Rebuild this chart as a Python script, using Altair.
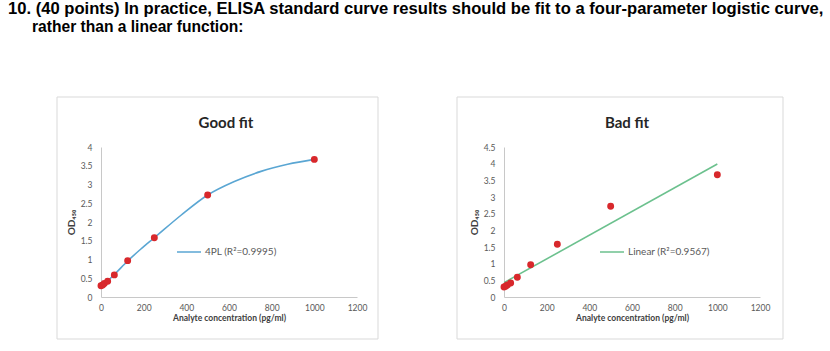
import altair as alt
import pandas as pd

# Standard points (concentration pg/ml, OD450)
conc = [0, 7.8, 15.6, 31.25, 62.5, 125, 250, 500, 1000]
od = [0.30, 0.32, 0.36, 0.42, 0.59, 0.97, 1.58, 2.72, 3.67]

# 4PL curve
curve_x = [0, 7.8, 15.6, 31.25, 62.5, 125, 187, 250, 375, 500, 625, 750, 875, 1000]
curve_y = [0.30, 0.33, 0.36, 0.43, 0.60, 0.96, 1.28, 1.58, 2.18, 2.72, 3.08, 3.35, 3.54, 3.67]

# Linear fit line end points
lin_x = [0, 1000]
lin_y = [0.43, 3.99]

x_ticks = [0, 200, 400, 600, 800, 1000, 1200]
y_ticks_left = [0, 0.5, 1, 1.5, 2, 2.5, 3, 3.5, 4]
y_ticks_right = [0, 0.5, 1, 1.5, 2, 2.5, 3, 3.5, 4, 4.5]

heading1 = "10. (40 points) In practice, ELISA standard curve results should be fit to a four-parameter logistic curve,"
heading2 = "rather than a linear function:"

FONT = "Lato"
RED = "#d8282c"
BLUE = "#5aa6d3"
GREEN = "#6cc18e"
W, H = 256, 150

pts = pd.DataFrame({"x": conc, "y": od})
crv = pd.DataFrame({"x": curve_x, "y": curve_y, "series": "4PL  (R\u00b2=0.9995)"})
lin = pd.DataFrame({"x": lin_x, "y": lin_y, "series": "Linear  (R\u00b2=0.9567)"})
one = pd.DataFrame({"a": [0]})


def xenc():
    return alt.X(
        "x:Q",
        scale=alt.Scale(domain=[0, 1200], nice=False, zero=False),
        axis=alt.Axis(
            values=x_ticks, format="d", grid=False, ticks=False,
            domainColor="#c8c8c8", labelColor="#595959", labelFontSize=8.5,
            labelFont=FONT, labelPadding=6, labelFlush=False, labelOverlap=False,
            title="Analyte concentration (pg/ml)", titleFont=FONT,
            titleFontSize=8.5, titleFontWeight="bold", titleColor="#404040",
            titlePadding=2,
        ),
    )


def yenc(ticks, top):
    return alt.Y(
        "y:Q",
        scale=alt.Scale(domain=[0, top], nice=False, zero=False),
        axis=alt.Axis(
            values=ticks, format="~g", grid=False, ticks=False,
            domainColor="#c8c8c8", labelColor="#595959", labelFontSize=8.5,
            labelFont=FONT, labelPadding=9, labelFlush=False, labelOverlap=False,
            title="OD\u2084\u2085\u2080", titleFont=FONT, titleFontSize=10,
            titleFontWeight="bold", titleColor="#404040", titlePadding=4,
        ),
    )


def box(left, right):
    return alt.Chart(one).mark_rect(filled=False, stroke="#d9d9d9", strokeWidth=1).encode(
        x=alt.value(left), x2=alt.value(right), y=alt.value(-50), y2=alt.value(192)
    )


def ptitle(txt, cx):
    return alt.Chart(one).mark_text(
        text=txt, font=FONT, fontSize=15, fontWeight="bold", color="#262626",
        align="center", baseline="middle",
    ).encode(x=alt.value(cx), y=alt.value(-24))


def legend(lx, ly):
    return alt.Legend(
        orient="none", legendX=lx, legendY=ly, title=None, symbolType="stroke",
        symbolSize=576, symbolStrokeWidth=1.5, labelFontSize=10, labelFont=FONT,
        labelColor="#595959", padding=0, labelOffset=3,
    )


# invisible frame spanning the whole 830x351 canvas (fixes the layout origin)
page = alt.Chart(one).mark_rect(fill="white", opacity=0, stroke=None).encode(
    x=alt.value(-101), x2=alt.value(729), y=alt.value(-147), y2=alt.value(204)
)

head = alt.Chart(one).mark_text(
    text=heading1, font="Liberation Sans", fontSize=16.6, fontWeight="bold",
    color="#000000", align="left", baseline="alphabetic",
).encode(x=alt.value(-93), y=alt.value(-133))
head2 = alt.Chart(one).mark_text(
    text=heading2, font="Liberation Sans", fontSize=15.6, fontWeight="bold",
    color="#000000", align="left", baseline="alphabetic",
).encode(x=alt.value(-69), y=alt.value(-115))

left = alt.layer(
    page,
    box(-44, 277),
    head, head2,
    ptitle("Good fit", 125),
    alt.Chart(crv).mark_line(interpolate="monotone", strokeWidth=1.6).encode(
        x=xenc(), y=yenc(y_ticks_left, 4),
        color=alt.Color("series:N", scale=alt.Scale(range=[BLUE]), legend=legend(75, 92)),
    ),
    alt.Chart(pts).mark_circle(size=48, opacity=1, color=RED).encode(
        x=xenc(), y=yenc(y_ticks_left, 4)
    ),
).properties(width=W, height=H)

right = alt.layer(
    box(-47, 279),
    ptitle("Bad fit", 123),
    alt.Chart(lin).mark_line(strokeWidth=1.6).encode(
        x=xenc(), y=yenc(y_ticks_right, 4.5),
        color=alt.Color("series:N", scale=alt.Scale(range=[GREEN]), legend=legend(95, 92)),
    ),
    alt.Chart(pts).mark_circle(size=48, opacity=1, color=RED).encode(
        x=xenc(), y=yenc(y_ticks_right, 4.5)
    ),
).properties(width=W, height=H)

chart = (
    alt.hconcat(left, right, spacing=147, bounds="flush")
    .resolve_scale(color="independent")
    .resolve_legend(color="independent")
    .properties(
        autosize=alt.AutoSizeParams(type="pad"),
        padding=0,
        background="white",
    )
    .configure_view(stroke=None)
)

chart.save("out.html", embed_options={"renderer": "svg", "actions": False})
